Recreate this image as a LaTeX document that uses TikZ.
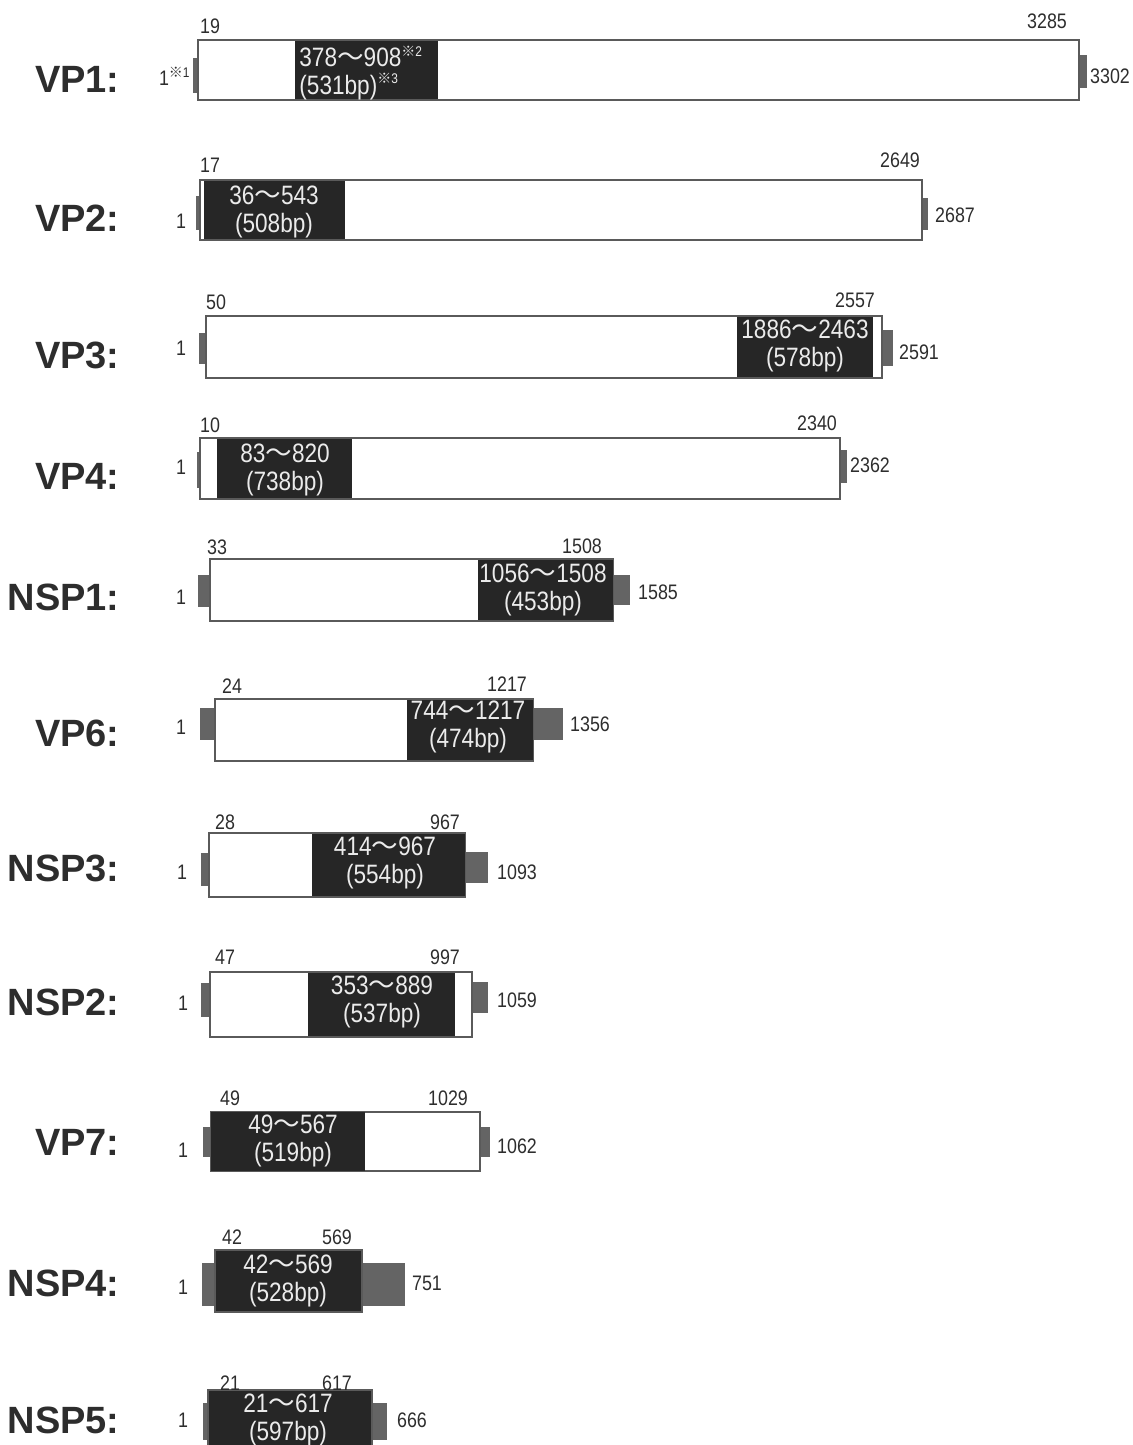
\documentclass[tikz,border=0pt]{standalone}
\usepackage{fontspec}
\setmainfont{Liberation Sans}
\newfontfamily\narrowfont[FakeStretch=0.85]{Liberation Sans}
\newfontfamily\cjkfont{Noto Sans CJK JP}
\newcommand{\wave}{{\cjkfont ～}}
\newcommand{\kome}[1]{\textsuperscript{\fontsize{7}{7}\selectfont{\cjkfont ※}#1}}
\definecolor{inkgray}{RGB}{45,45,45}
\definecolor{corefill}{RGB}{38,38,38}
\definecolor{stubgray}{RGB}{100,100,100}
\definecolor{edgegray}{RGB}{90,90,90}
\usetikzlibrary{positioning}

\begin{document}
\begin{tikzpicture}[x=0.5pt, y=-0.5pt,
      orf/.style={draw=edgegray, line width=0.9pt, fill=white},
      core/.style={fill=corefill},
      stub/.style={fill=stubgray},
      gname/.style={font=\fontsize{19}{22}\selectfont\bfseries, text=inkgray, anchor=east, inner sep=0pt},
      num/.style={font=\narrowfont\fontsize{10.5}{12}\selectfont, text=inkgray, inner sep=0pt},
      spanlabel/.style={font=\narrowfont\fontsize{13.3}{13.8}\selectfont, text=white!92!black, align=center, inner sep=0pt}
    ]
    \useasboundingbox (0,0) rectangle (1133,1445);
    \clip (0,0) rectangle (1133,1445);
    % VP1
    \fill[stub] (193,58) rectangle (198,93);
    \fill[stub] (1079,55) rectangle (1087,88);
    \draw[orf] (198,40) rectangle (1079,100);
    \fill[core] (295,41) rectangle (438,99);
    \node[gname] (vp1) at (120,79) {VP1:};
    \node[num, anchor=east] (vp1-s) at (191,76) {1\kome{1}};
    \node[num] (vp1-b) at (210,26) {19};
    \node[num] (vp1-e) at (1047,21) {3285};
    \node[num] (vp1-l) at (1110,76) {3302};
    \node[spanlabel, align=left, anchor=west] (vp1-r) at (299,73) {378\wave908\kome{2}\\(531bp)\kome{3}};
    % VP2
    \fill[stub] (196,196) rectangle (200,230);
    \fill[stub] (922,198) rectangle (928,230);
    \draw[orf] (200,180) rectangle (922,240);
    \fill[core] (204,181) rectangle (345,239);
    \node[gname] (vp2) at (120,218) {VP2:};
    \node[num] (vp2-s) at (181,221) {1};
    \node[num] (vp2-b) at (210,165) {17};
    \node[num] (vp2-e) at (900,160) {2649};
    \node[num] (vp2-l) at (955,215) {2687};
    \node[spanlabel] (vp2-r) at (274,212) {36\wave543\\(508bp)};
    % VP3
    \fill[stub] (199,333) rectangle (206,364);
    \fill[stub] (882,330) rectangle (893,366);
    \draw[orf] (206,316) rectangle (882,378);
    \fill[core] (737,317) rectangle (873,377);
    \node[gname] (vp3) at (120,355) {VP3:};
    \node[num] (vp3-s) at (181,348) {1};
    \node[num] (vp3-b) at (216,302) {50};
    \node[num] (vp3-e) at (855,300) {2557};
    \node[num] (vp3-l) at (919,352) {2591};
    \node[spanlabel] (vp3-r) at (805,346) {1886\wave2463\\(578bp)};
    % VP4
    \fill[stub] (197,452) rectangle (200,488);
    \fill[stub] (840,450) rectangle (847,483);
    \draw[orf] (200,438) rectangle (840,499);
    \fill[core] (217,439) rectangle (352,498);
    \node[gname] (vp4) at (120,476) {VP4:};
    \node[num] (vp4-s) at (181,467) {1};
    \node[num] (vp4-b) at (210,425) {10};
    \node[num] (vp4-e) at (817,423) {2340};
    \node[num] (vp4-l) at (870,465) {2362};
    \node[spanlabel] (vp4-r) at (285,470) {83\wave820\\(738bp)};
    % NSP1
    \fill[stub] (198,575) rectangle (210,607);
    \fill[stub] (613,575) rectangle (630,605);
    \draw[orf] (210,559) rectangle (613,621);
    \fill[core] (478,560) rectangle (613,620);
    \node[gname] (nsp1) at (120,597) {NSP1:};
    \node[num] (nsp1-s) at (181,597) {1};
    \node[num] (nsp1-b) at (217,547) {33};
    \node[num] (nsp1-e) at (582,546) {1508};
    \node[num] (nsp1-l) at (658,592) {1585};
    \node[spanlabel] (nsp1-r) at (543,590) {1056\wave1508\\(453bp)};
    % VP6
    \fill[stub] (200,708) rectangle (215,740);
    \fill[stub] (533,708) rectangle (563,740);
    \draw[orf] (215,699) rectangle (533,761);
    \fill[core] (407,700) rectangle (533,760);
    \node[gname] (vp6) at (120,733) {VP6:};
    \node[num] (vp6-s) at (181,727) {1};
    \node[num] (vp6-b) at (232,686) {24};
    \node[num] (vp6-e) at (507,684) {1217};
    \node[num] (vp6-l) at (590,724) {1356};
    \node[spanlabel] (vp6-r) at (468,727) {744\wave1217\\(474bp)};
    % NSP3
    \fill[stub] (201,853) rectangle (209,886);
    \fill[stub] (465,852) rectangle (488,883);
    \draw[orf] (209,833) rectangle (465,897);
    \fill[core] (312,834) rectangle (465,896);
    \node[gname] (nsp3) at (120,868) {NSP3:};
    \node[num] (nsp3-s) at (182,872) {1};
    \node[num] (nsp3-b) at (225,822) {28};
    \node[num] (nsp3-e) at (445,822) {967};
    \node[num] (nsp3-l) at (517,872) {1093};
    \node[spanlabel] (nsp3-r) at (385,863) {414\wave967\\(554bp)};
    % NSP2
    \fill[stub] (201,983) rectangle (210,1017);
    \fill[stub] (472,982) rectangle (488,1013);
    \draw[orf] (210,972) rectangle (472,1037);
    \fill[core] (308,973) rectangle (455,1036);
    \node[gname] (nsp2) at (120,1002) {NSP2:};
    \node[num] (nsp2-s) at (183,1003) {1};
    \node[num] (nsp2-b) at (225,957) {47};
    \node[num] (nsp2-e) at (445,957) {997};
    \node[num] (nsp2-l) at (517,1000) {1059};
    \node[spanlabel] (nsp2-r) at (382,1002) {353\wave889\\(537bp)};
    % VP7
    \fill[stub] (203,1127) rectangle (211,1157);
    \fill[stub] (480,1127) rectangle (490,1157);
    \draw[orf] (211,1112) rectangle (480,1171);
    \fill[core] (211,1112) rectangle (365,1171);
    \node[gname] (vp7) at (120,1142) {VP7:};
    \node[num] (vp7-s) at (183,1150) {1};
    \node[num] (vp7-b) at (230,1098) {49};
    \node[num] (vp7-e) at (448,1098) {1029};
    \node[num] (vp7-l) at (517,1146) {1062};
    \node[spanlabel] (vp7-r) at (293,1141) {49\wave567\\(519bp)};
    % NSP4
    \fill[stub] (202,1263) rectangle (215,1306);
    \fill[stub] (362,1263) rectangle (405,1306);
    \draw[orf, fill=corefill] (215,1250) rectangle (362,1312);
    \node[gname] (nsp4) at (120,1283) {NSP4:};
    \node[num] (nsp4-s) at (183,1287) {1};
    \node[num] (nsp4-b) at (232,1237) {42};
    \node[num] (nsp4-e) at (337,1237) {569};
    \node[num] (nsp4-l) at (427,1283) {751};
    \node[spanlabel] (nsp4-r) at (288,1281) {42\wave569\\(528bp)};
    % NSP5
    \fill[stub] (203,1403) rectangle (208,1440);
    \fill[stub] (372,1403) rectangle (387,1440);
    \draw[orf, fill=corefill] (208,1390) rectangle (372,1455);
    \node[gname] (nsp5) at (120,1420) {NSP5:};
    \node[num] (nsp5-s) at (183,1420) {1};
    \node[num] (nsp5-b) at (230,1383) {21};
    \node[num] (nsp5-e) at (337,1383) {617};
    \node[num] (nsp5-l) at (412,1420) {666};
    \node[spanlabel] (nsp5-r) at (288,1420) {21\wave617\\(597bp)};
  \end{tikzpicture}
\end{document}
